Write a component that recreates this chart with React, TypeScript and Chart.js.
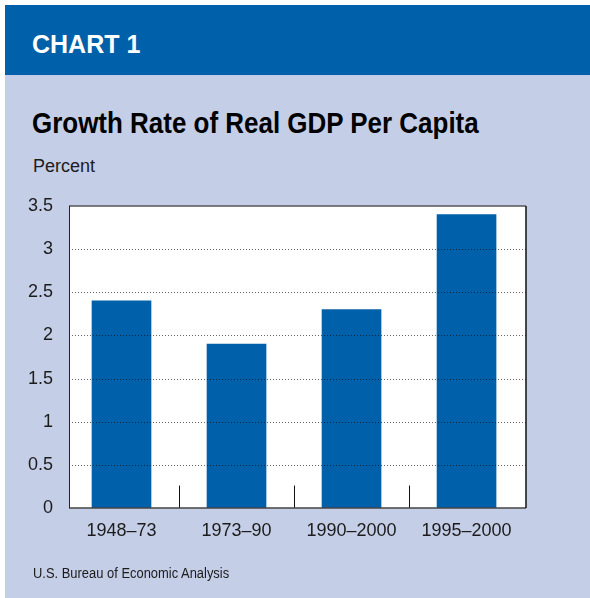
import React, { useEffect, useRef } from "react";
import { Chart, registerables } from "chart.js";
Chart.register(...registerables);

const categories = ["1948–73", "1973–90", "1990–2000", "1995–2000"];
const growthRates = [2.4, 1.9, 2.3, 3.4];
const yTickValues = [0, 0.5, 1, 1.5, 2, 2.5, 3, 3.5];
const dividerValues = [0.5, 1.5, 2.5];
const dividerHeight = 0.26;

const BLUE = "#0060AA";
const LAVENDER = "#C5CEE7";
const TEXT = "#1c1c1c";
const SANS = "'Liberation Sans', Arial, Helvetica, sans-serif";

export default function App() {
  const ref = useRef<HTMLCanvasElement>(null);

  useEffect(() => {
    if (!ref.current) return;
    const framePlugin = {
      id: "frame",
      beforeDatasetsDraw(chart: any) {
        const { ctx, chartArea: a } = chart;
        ctx.save();
        ctx.fillStyle = "#ffffff";
        ctx.fillRect(a.left, a.top, a.right - a.left, a.bottom - a.top);
        ctx.restore();
      },
      afterDatasetsDraw(chart: any) {
        const { ctx, chartArea: a } = chart;
        const y = chart.scales.y;
        const x = chart.scales.x;
        ctx.save();
        ctx.strokeStyle = "rgba(0,0,0,0.6)";
        ctx.lineWidth = 1;
        ctx.setLineDash([1, 2]);
        yTickValues.forEach((v) => {
          if (v === 0 || v === yTickValues[yTickValues.length - 1]) return;
          const py = Math.round(y.getPixelForValue(v)) + 0.5;
          ctx.beginPath();
          ctx.moveTo(a.left, py);
          ctx.lineTo(a.right, py);
          ctx.stroke();
        });
        ctx.setLineDash([]);
        ctx.strokeStyle = "#111";
        ctx.lineWidth = 1;
        dividerValues.forEach((v) => {
          const px = Math.round(x.getPixelForValue(v)) + 0.5;
          ctx.beginPath();
          ctx.moveTo(px, y.getPixelForValue(0));
          ctx.lineTo(px, y.getPixelForValue(dividerHeight));
          ctx.stroke();
        });
        ctx.lineWidth = 1.5;
        ctx.strokeStyle = "#555";
        ctx.beginPath();
        ctx.moveTo(a.left, a.top);
        ctx.lineTo(a.right, a.top);
        ctx.stroke();
        ctx.strokeStyle = "#444";
        ctx.beginPath();
        ctx.moveTo(a.left, a.bottom);
        ctx.lineTo(a.right, a.bottom);
        ctx.stroke();
        ctx.strokeStyle = "#111";
        ctx.beginPath();
        ctx.moveTo(a.right, a.top);
        ctx.lineTo(a.right, a.bottom);
        ctx.stroke();
        ctx.lineWidth = 1;
        ctx.strokeStyle = "#222";
        ctx.beginPath();
        ctx.moveTo(a.left + 0.5, a.top);
        ctx.lineTo(a.left + 0.5, a.bottom);
        ctx.stroke();
        ctx.restore();
      },
    };

    const chart = new Chart(ref.current, {
      type: "bar",
      data: {
        datasets: [
          {
            data: categories.map((c, i) => ({ x: i, y: growthRates[i] })),
            backgroundColor: BLUE,
            barThickness: 59,
            borderWidth: 0,
          },
        ],
      },
      options: {
        animation: false,
        responsive: false,
        layout: { padding: { left: 0, top: 206, right: 64, bottom: 0 } },
        plugins: { legend: { display: false }, tooltip: { enabled: false } },
        scales: {
          x: {
            type: "linear",
            offset: false,
            min: -0.4565,
            max: 3.517,
            afterBuildTicks: (s: any) => {
              s.ticks = categories.map((_, i) => ({ value: i }));
            },
            afterFit: (s: any) => {
              s.height = 90;
            },
            grid: { display: false, drawTicks: false, offset: false },
            border: { display: false },
            ticks: {
              callback: (v: any) => categories[Number(v)],
              font: { family: SANS, size: 18 },
              color: TEXT,
              padding: 12,
              autoSkip: false,
              maxRotation: 0,
            },
          },
          y: {
            min: 0,
            max: 3.5,
            afterBuildTicks: (s: any) => {
              s.ticks = yTickValues.map((v) => ({ value: v }));
            },
            afterFit: (s: any) => {
              s.width = 69;
            },
            grid: { display: false, drawTicks: false },
            border: { display: false },
            ticks: {
              callback: (v: any) => String(v),
              font: { family: SANS, size: 18 },
              color: TEXT,
              padding: 16,
            },
          },
        },
      },
      plugins: [framePlugin],
    } as any);
    return () => chart.destroy();
  }, []);

  const abs = (o: any) => ({ position: "absolute" as const, whiteSpace: "nowrap" as const, ...o });

  return (
    <div style={{ position: "absolute", left: 0, top: 0, width: 590, height: 598, background: "#fff", overflow: "hidden" }}>
      <div style={abs({ left: 5, top: 5, width: 585, height: 593, background: LAVENDER })} />
      <div style={abs({ left: 5, top: 5, width: 585, height: 70, background: BLUE })} />
      <div style={abs({ left: 32, top: 32, fontFamily: SANS, fontWeight: "bold", fontSize: 25, lineHeight: "25px", color: "#fff" })}>
        CHART 1
      </div>
      <div style={abs({ left: 32, top: 107.7, fontFamily: SANS, fontWeight: "bold", fontSize: 29.5, lineHeight: "29.5px", color: "#000", transform: "scaleX(0.88)", transformOrigin: "0 0" })}>
        Growth Rate of Real GDP Per Capita
      </div>
      <div style={abs({ left: 33, top: 157, fontFamily: SANS, fontSize: 18, lineHeight: "18px", color: TEXT })}>
        Percent
      </div>
      <canvas ref={ref} width={590} height={598} style={{ position: "absolute", left: 0, top: 0, width: 590, height: 598 }} />
      <div style={abs({ left: 33, top: 564.5, fontFamily: SANS, fontSize: 15.4, lineHeight: "15.4px", color: TEXT, transform: "scaleX(0.84)", transformOrigin: "0 0" })}>
        U.S. Bureau of Economic Analysis
      </div>
    </div>
  );
}
